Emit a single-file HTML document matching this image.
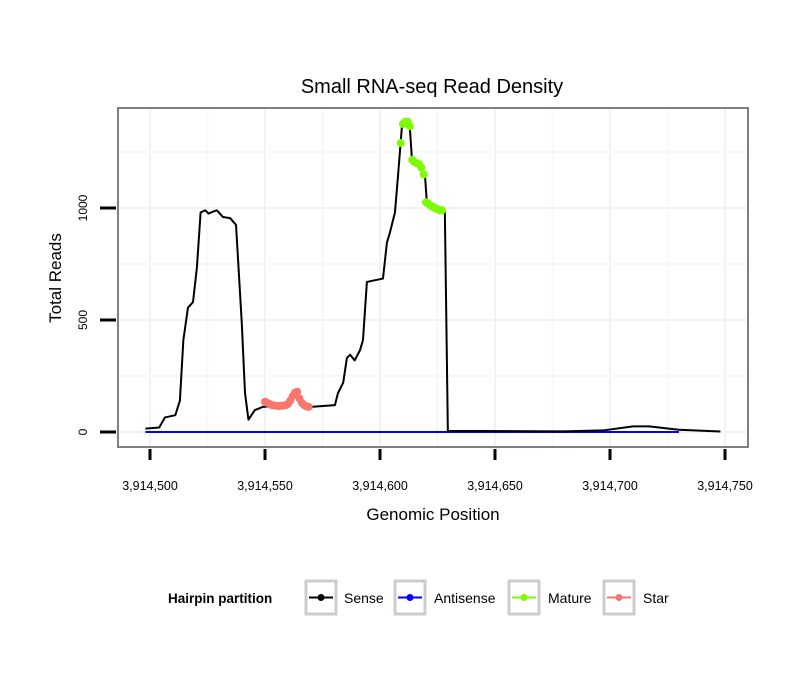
<!DOCTYPE html>
<html><head><meta charset="utf-8"><style>
body{margin:0;background:#fff;width:810px;height:690px;overflow:hidden}
text{font-family:"Liberation Sans",sans-serif}
</style></head><body>
<svg id="chart" width="810" height="690">
<script>
const sensePos=[498,504,506.5,511,513,514.5,516.5,518.7,520.4,522,524,525.4,529,531.7,534.8,537.4,539.9,541.3,542.8,545.6,549,553,560,564,567,570,580.4,581.7,584,585.6,587,589,591.3,592.6,594.3,601.3,603,604.3,606.5,607.8,609.5,611.7,613,613.9,617.4,619.6,620.4,624.8,628.2,629.5,679.5,697,710,717,730,748];
const senseVal=[15,20,65,75,140,410,555,580,735,980,990,975,990,960,955,925,487,175,55,98,112,115,117,175,120,112,120,173,220,330,345,320,365,410,670,685,845,890,980,1140,1360,1380,1355,1215,1185,1140,1020,1000,980,5,3,7,25,25,10,2];
const antiPos=[498,730];
const antiVal=[0,0];
const maturePos=[609,610,611,612,613,614,615,616,617,618,619,620,621,622,623,624,625,626,627];
const matureVal=[1290,1375,1385,1385,1365,1215,1205,1200,1195,1180,1150,1025,1020,1010,1005,1000,995,990,990];
const starPos=[550,551,552,553,554,555,556,557,558,559,560,561,562,563,564,565,566,567,568,569];
const starVal=[135,130,125,120,118,117,116,117,118,120,125,140,160,175,180,150,130,120,115,112];
const xTicks=[3914500,3914550,3914600,3914650,3914700,3914750];
const xTickLabels=["3,914,500","3,914,550","3,914,600","3,914,650","3,914,700","3,914,750"];
const yTicks=[0,500,1000];
const yTickLabels=["0","500","1000"];
const X0=3914500;
function xs(p){if(p<1e6)p+=3914000;return 150+(p-X0)*2.3;}
function ys(v){return 432-v*0.224;}
const svg=document.getElementById('chart');
const NS='http://www.w3.org/2000/svg';
function mk(tag,attrs,parent){const e=document.createElementNS(NS,tag);for(const k in attrs)e.setAttribute(k,attrs[k]);(parent||svg).appendChild(e);return e;}
window.addEventListener('DOMContentLoaded',()=>{
 const g=mk('g',{});
 
 
 xTicks.forEach(t=>{[0,25].forEach(o=>{const x=xs(t+o);if(x>118&&x<748){const l=mk('line',{x1:x,x2:x,y1:108,y2:447,stroke:o?'#f7f7f7':'#f2f2f2','stroke-width':2},g);
 
 }});});
 [0,250,500,750,1000,1250].forEach(v=>{const y=ys(v);const l=mk('line',{x1:118,x2:748,y1:y,y2:y,stroke:(v%500)?'#f7f7f7':'#f2f2f2','stroke-width':2},g);
 
 });
 const line=(P,V,c,n)=>{const p=mk('polyline',{points:P.map((q,i)=>xs(q)+','+ys(V[i])).join(' '),fill:'none',stroke:c,'stroke-width':2,'stroke-linejoin':'round'});
 
 };
 line(antiPos,antiVal,'#0000ff','antisense-line');
 line(sensePos,senseVal,'#000000','sense-line');
 line(starPos,starVal,'#f8766d','star-line');
 starPos.forEach((p,i)=>{const c=mk('circle',{cx:xs(p),cy:ys(starVal[i]),r:4,fill:'#f8766d'});
 
 });
 maturePos.forEach((p,i)=>{const c=mk('circle',{cx:xs(p),cy:ys(matureVal[i]),r:4,fill:'#7cfc00'});
 
 });
 const b=mk('rect',{x:118,y:108,width:630,height:339,fill:'none',stroke:'#7f7f7f','stroke-width':2});
 
 
 xTicks.forEach((t,i)=>{const x=xs(t);const l=mk('line',{x1:x,x2:x,y1:449,y2:460,stroke:'#000','stroke-width':3});
 
 
 const tx=mk('text',{x:x,y:490,'text-anchor':'middle','font-size':12.5,fill:'#000'});tx.textContent=xTickLabels[i];
 
 });
 yTicks.forEach((t,i)=>{const y=ys(t);const l=mk('line',{x1:100,x2:116,y1:y,y2:y,stroke:'#000','stroke-width':3});
 
 
 const tx=mk('text',{x:0,y:0,'text-anchor':'middle','font-size':12,transform:`translate(87,${y}) rotate(-90)`,fill:'#000'});tx.textContent=yTickLabels[i];
 
 });
});
</script>
<text x="432" y="93" text-anchor="middle" font-size="20">Small RNA-seq Read Density</text>
<text x="433" y="520" text-anchor="middle" font-size="17">Genomic Position</text>
<text transform="translate(61,278) rotate(-90)" text-anchor="middle" font-size="17">Total Reads</text>
<g>
<text x="168" y="603" font-size="13.5" font-weight="bold">Hairpin partition</text>
<g><rect x="306" y="581" width="30" height="33" fill="#fff" stroke="#cccccc" stroke-width="3"/><line x1="309" x2="333" y1="597.5" y2="597.5" stroke="#000" stroke-width="2"/><circle cx="321" cy="597.5" r="3.5" fill="#000"/><text x="344" y="603" font-size="14">Sense</text></g>
<g><rect x="395" y="581" width="30" height="33" fill="#fff" stroke="#cccccc" stroke-width="3"/><line x1="398" x2="422" y1="597.5" y2="597.5" stroke="#0000ff" stroke-width="2"/><circle cx="410" cy="597.5" r="3.5" fill="#0000ff"/><text x="434" y="603" font-size="14">Antisense</text></g>
<g><rect x="509" y="581" width="30" height="33" fill="#fff" stroke="#cccccc" stroke-width="3"/><line x1="512" x2="536" y1="597.5" y2="597.5" stroke="#7cfc00" stroke-width="2"/><circle cx="524" cy="597.5" r="3.5" fill="#7cfc00"/><text x="548" y="603" font-size="14">Mature</text></g>
<g><rect x="604" y="581" width="30" height="33" fill="#fff" stroke="#cccccc" stroke-width="3"/><line x1="607" x2="631" y1="597.5" y2="597.5" stroke="#f8766d" stroke-width="2"/><circle cx="619" cy="597.5" r="3.5" fill="#f8766d"/><text x="643" y="603" font-size="14">Star</text></g>
</g>
</svg>
</body></html>
